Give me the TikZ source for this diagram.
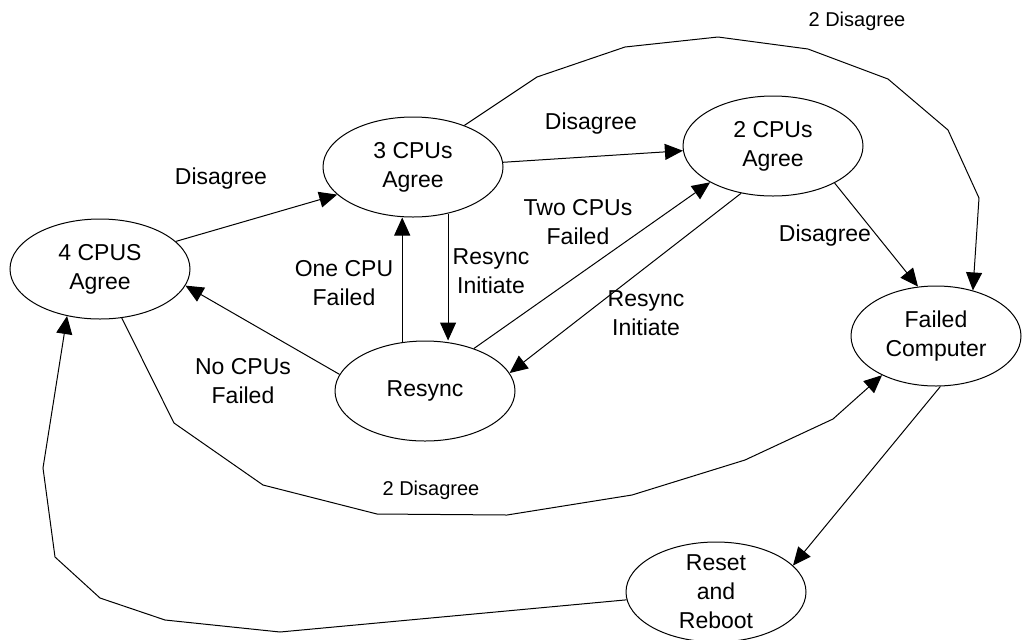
\documentclass[tikz,border=0pt]{standalone}
\usepackage{fontspec}
\setmainfont{Liberation Sans}
\usetikzlibrary{arrows.meta,shapes.geometric}
\begin{document}
\begin{tikzpicture}[x=0.5pt,y=-0.5pt,
  state/.style={ellipse,draw,line width=0.5pt,minimum width=90pt,minimum height=50pt,
    inner sep=0pt,align=center,font=\fontsize{11.5}{14.5}\selectfont},
  lab/.style={align=center,font=\fontsize{11.5}{14.5}\selectfont,inner sep=0pt},
  smalllab/.style={align=center,font=\fontsize{10}{12}\selectfont,inner sep=0pt},
  conn/.style={line width=0.5pt,-{Triangle[length=9pt,width=8pt]}}]
\useasboundingbox (0,0) rectangle (1024,639);
% states
\node[state] (n4) at (100,269) {4 CPUS\\Agree};
\node[state] (n3) at (413,167) {3 CPUs\\Agree};
\node[state] (n2) at (773,146) {2 CPUs\\Agree};
\node[state] (nr) at (425,391) {Resync};
\node[state,minimum width=85pt] (nf) at (936,336) {Failed\\Computer};
\node[state,inner ysep=-7pt] (nb) at (716,592) {Reset\\and\\Reboot};
% labels
\node[lab] (l1) at (221,179) {Disagree};
\node[lab] (l2) at (591,124) {Disagree};
\node[smalllab] (l3) at (857,21) {2 Disagree};
\node[lab] (l4) at (344,283) {One CPU\\Failed};
\node[lab] (l5) at (491,271) {Resync\\Initiate};
\node[lab] (l6) at (578,222) {Two CPUs\\Failed};
\node[lab] (l7) at (646,313) {Resync\\Initiate};
\node[lab] (l8) at (243,381) {No CPUs\\Failed};
\node[lab] (l9) at (825,236) {Disagree};
\node[smalllab] (l10) at (431,490) {2 Disagree};
% connectors
\draw[conn] (n4.20) -- (n3.200);
\draw[conn] (n3.3) -- (n2.183);
\draw[conn] (n3.39) -- (537,77) -- (625,47) -- (718,37) -- (808,49) -- (888,79)
  -- (948,130) -- (979,198) -- (nf.51);
\draw[conn] (nr.115) -- (nr.115 |- n3.south);
\draw[conn] (n3.307) -- (n3.307 |- nr.north);
\draw[conn] (nr.41) -- (n2.210);
\draw[conn] (n2.236) -- (nr.12);
\draw[conn] (nr.169) -- (n4.349);
\draw[conn] (n2.329) -- (nf.110);
\draw[conn] (n4.294) -- (174,423) -- (263,485) -- (377,514) -- (507,515) -- (632,495)
  -- (745,460) -- (833,419) -- (nf.216);
\draw[conn] (nf.275) -- (nb.19);
\draw[conn] (nb.185) -- (280,632) -- (165,620) -- (100,598) -- (55,557) -- (43,468)
  -- (n4.235);
\end{tikzpicture}
\end{document}
